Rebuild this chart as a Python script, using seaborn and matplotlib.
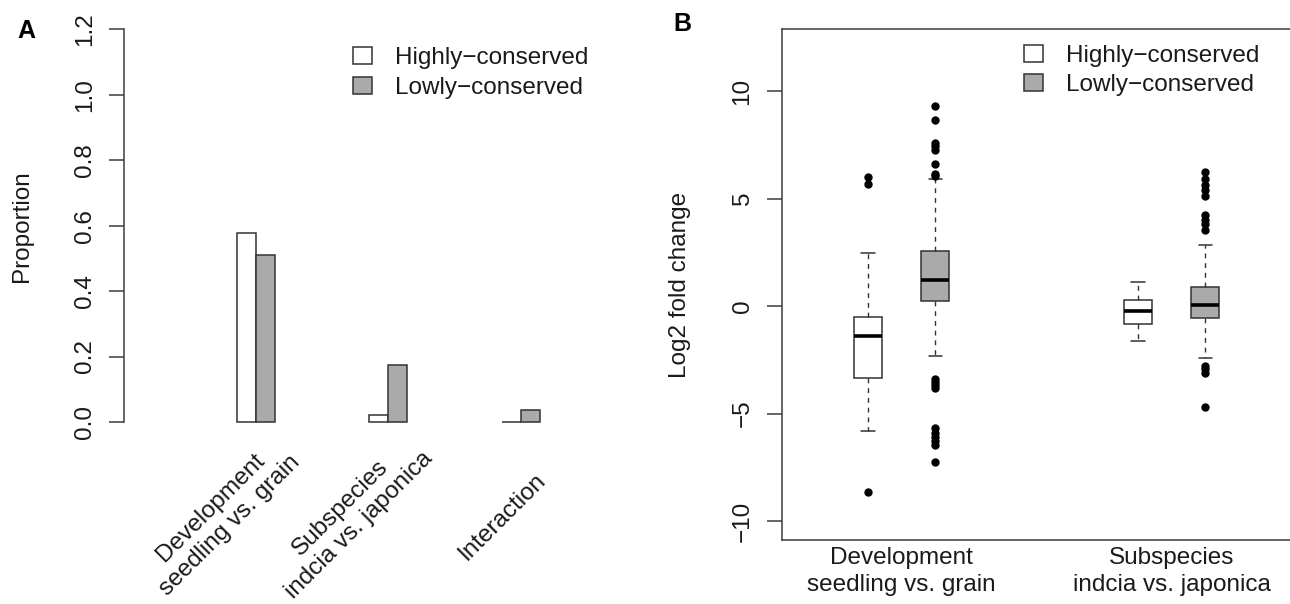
import numpy as np
import pandas as pd
import matplotlib
matplotlib.use("Agg")
import matplotlib.pyplot as plt
from matplotlib.patches import Patch
import seaborn as sns

# ---------------- data ----------------
# Panel A: proportion of differentially expressed genes
categories_a = ["Development\nseedling vs. grain",
                "Subspecies\nindcia vs. japonica",
                "Interaction"]
groups = ["Highly\u2212conserved", "Lowly\u2212conserved"]
prop_highly = [0.577, 0.020, 0.0]
prop_lowly = [0.511, 0.175, 0.037]
yticks_a = [0.0, 0.2, 0.4, 0.6, 0.8, 1.0, 1.2]

# Panel B: log2 fold change box summaries
categories_b = ["Development\nseedling vs. grain",
                "Subspecies\nindcia vs. japonica"]
# order: Dev-Highly, Dev-Lowly, Sub-Highly, Sub-Lowly
box_q1 = [-3.36, 0.23, -0.85, -0.57]
box_med = [-1.39, 1.21, -0.22, 0.05]
box_q3 = [-0.51, 2.56, 0.28, 0.87]
box_whislo = [-5.81, -2.34, -1.61, -2.42]
box_whishi = [2.48, 5.93, 1.13, 2.85]
fliers_dev_highly = [-8.64, 5.70, 6.01]
fliers_dev_lowly = [-7.23, -6.46, -6.27, -6.07, -5.89, -5.68,
                    -3.82, -3.67, -3.52, -3.38,
                    6.05, 6.13, 6.63, 7.28, 7.43, 7.59, 8.67, 9.29]
fliers_sub_highly = []
fliers_sub_lowly = [-4.68, -3.10, -2.94, -2.79,
                    3.56, 3.81, 4.02, 4.25, 5.11, 5.39, 5.62, 5.93, 6.24]
yticks_b = [-10, -5, 0, 5, 10]

# ---------------- style ----------------
sns.set_theme(style="white")
plt.rcParams["font.family"] = ["Liberation Sans", "DejaVu Sans"]
FS = 17.5
EDGE = "#333333"
SPINE = "#3c3c3c"
GRAY = "#AAAAAA"
TXT = "#1a1a1a"

W, H = 1290, 604
fig = plt.figure(figsize=(W / 100, H / 100), dpi=100)


def px_axes(left, top, right, bottom):
    return fig.add_axes([left / W, 1 - bottom / H, (right - left) / W, (bottom - top) / H])


# ---------------- Panel A ----------------
axA = px_axes(124, 13.6, 613, 437.7)
df_a = pd.DataFrame({
    "category": categories_a * 2,
    "group": [groups[0]] * 3 + [groups[1]] * 3,
    "proportion": prop_highly + prop_lowly,
})
sns.barplot(data=df_a, x="category", y="proportion", hue="group",
            order=categories_a, hue_order=groups,
            palette={groups[0]: "white", groups[1]: GRAY},
            saturation=1, width=0.287, gap=0, errorbar=None,
            edgecolor=EDGE, linewidth=1.1, legend=False, ax=axA)
axA.set_xlim(-0.998, 2.698)
axA.set_ylim(-0.048, 1.248)
sns.despine(ax=axA, top=True, right=True, bottom=True)
axA.spines["left"].set_bounds(0, 1.2)
axA.spines["left"].set_color(SPINE)
axA.spines["left"].set_linewidth(1.1)
axA.set_yticks(yticks_a)
axA.set_yticklabels([f"{v:.1f}" for v in yticks_a], rotation=90, va="center",
                    fontsize=FS, color=TXT)
axA.tick_params(axis="y", length=10.8, width=1.1, color=SPINE, pad=9.5, left=True)
axA.set_xticks([])
axA.set_xlabel("")
axA.set_ylabel("Proportion", fontsize=FS, color=TXT)
axA.yaxis.label.set_va("center")
axA.yaxis.set_label_coords((22 - 124) / 489, 0.5)

label_shift_a = [-0.27, -0.29, -0.14]
for i, (lab, dx) in enumerate(zip(categories_a, label_shift_a)):
    axA.text(i + dx, -0.186, lab, transform=axA.get_xaxis_transform(),
             rotation=45, rotation_mode="anchor", ha="center", va="center",
             multialignment="center", linespacing=1.22, fontsize=FS, color=TXT)

handles = [Patch(facecolor="white", edgecolor=EDGE, linewidth=1.1),
           Patch(facecolor=GRAY, edgecolor=EDGE, linewidth=1.1)]
legA = axA.legend(handles, groups, loc="upper left",
                  bbox_to_anchor=(353 / W, 1 - 47 / H), bbox_transform=fig.transFigure,
                  frameon=False, fontsize=FS, handlelength=0.78, handleheight=0.7,
                  handletextpad=0.95, borderpad=0, borderaxespad=0, labelspacing=0.33)
for t in legA.get_texts():
    t.set_color(TXT)

fig.text(26 / W, 1 - 31 / H, "A", fontsize=18, fontweight="bold", ha="center", va="center",
         color="black")

# ---------------- Panel B ----------------
axB = px_axes(781.7, 29.3, 1291.6, 540)
positions = [1, 2, 5, 6]
fliers = [fliers_dev_highly, fliers_dev_lowly, fliers_sub_highly, fliers_sub_lowly]
stats = []
for k in range(4):
    stats.append({"q1": box_q1[k], "med": box_med[k], "q3": box_q3[k],
                  "whislo": box_whislo[k], "whishi": box_whishi[k],
                  "fliers": np.array(fliers[k])})
bp = axB.bxp(stats, positions=positions, widths=0.415, capwidths=0.2,
             patch_artist=True, showfliers=True,
             boxprops=dict(edgecolor=EDGE, linewidth=1.1),
             whiskerprops=dict(color=EDGE, linewidth=1.0, linestyle=(0, (3.5, 3.5))),
             capprops=dict(color=EDGE, linewidth=1.1),
             medianprops=dict(color="black", linewidth=2.6, solid_capstyle="butt"),
             flierprops=dict(marker="o", markerfacecolor="black", markeredgecolor="black",
                             markersize=5, linestyle="none"))
for k, patch in enumerate(bp["boxes"]):
    patch.set_facecolor("white" if k % 2 == 0 else GRAY)

axB.set_xlim(-0.28, 7.28)
axB.set_ylim(-10.88, 12.88)
for s in axB.spines.values():
    s.set_visible(True)
    s.set_color(SPINE)
    s.set_linewidth(1.1)
axB.set_xticks([1.5, 5.5])
axB.set_xticklabels(categories_b, fontsize=FS, color=TXT, linespacing=1.3)
axB.tick_params(axis="x", length=0, pad=5, bottom=True)
axB.set_yticks(yticks_b)
axB.set_yticklabels([f"{v}".replace("-", "\u2212") for v in yticks_b], rotation=90,
                    va="center", fontsize=FS, color=TXT)
axB.tick_params(axis="y", length=10.8, width=1.1, color=SPINE, pad=9.5, left=True)
axB.set_ylabel("Log2 fold change", fontsize=FS, color=TXT)
axB.yaxis.label.set_va("center")
axB.yaxis.set_label_coords((680 - 781.7) / 509.9, 0.5)

legB = axB.legend(handles, groups, loc="upper left",
                  bbox_to_anchor=(1024 / W, 1 - 45 / H), bbox_transform=fig.transFigure,
                  frameon=False, fontsize=FS, handlelength=0.78, handleheight=0.7,
                  handletextpad=0.95, borderpad=0, borderaxespad=0, labelspacing=0.28)
for t in legB.get_texts():
    t.set_color(TXT)

fig.text(682 / W, 1 - 24 / H, "B", fontsize=18, fontweight="bold", ha="center", va="center",
         color="black")

fig.savefig("out.png", dpi=100, facecolor="white")
